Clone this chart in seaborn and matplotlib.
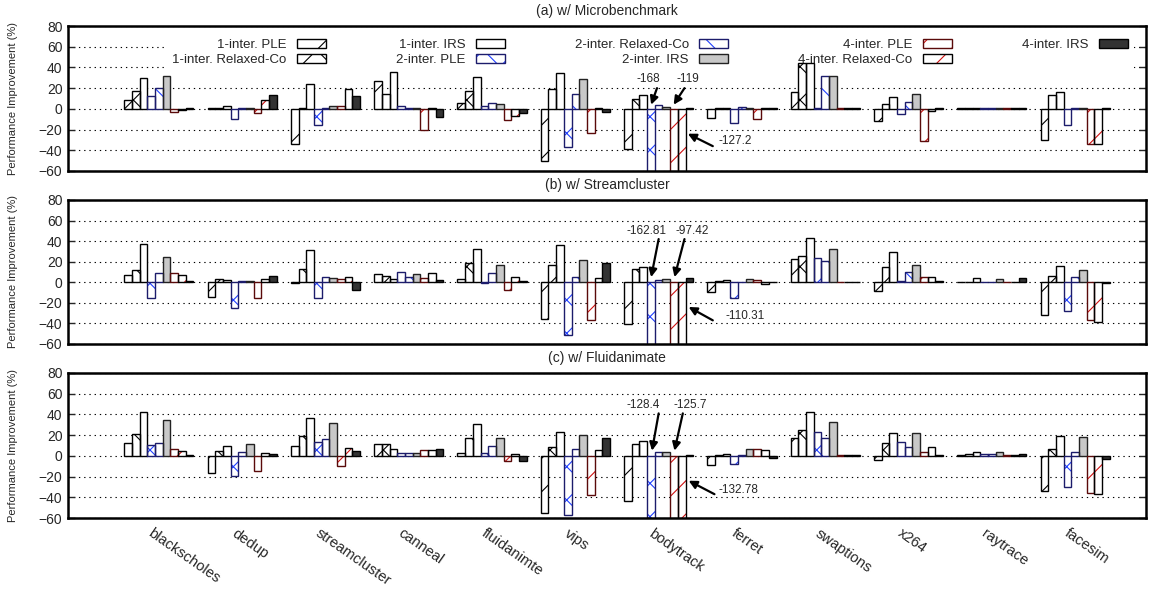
import numpy as np
import pandas as pd
import matplotlib
matplotlib.use("Agg")
import matplotlib.pyplot as plt
from matplotlib.patches import Patch
from matplotlib.transforms import ScaledTranslation
import seaborn as sns

# ---------------- data ----------------
benchmarks = ["blackscholes", "dedup", "streamcluster", "canneal", "fluidanimte", "vips",
              "bodytrack", "ferret", "swaptions", "x264", "raytrace", "facesim"]
series = ["1-inter. PLE", "1-inter. Relaxed-Co", "1-inter. IRS",
          "2-inter. PLE", "2-inter. Relaxed-Co", "2-inter. IRS",
          "4-inter. PLE", "4-inter. Relaxed-Co", "4-inter. IRS"]

# one row per series, one value per benchmark
micro_vals = [
    [9, 0.5, -34, 27, 6, -50, -39, -9, 16, -12, 0.5, -30],
    [17, 0.5, 0.5, 14, 17, 19, 10, 0.5, 44, 4.5, 0.5, 13],
    [30, 3, 24, 36, 30.5, 34.5, 13.5, 0.5, 44, 11, 0.5, 16],
    [12, -10, -15.5, 3, 3, -36.5, -168, -14, 0.5, -5, 0.5, -16],
    [20, 0.5, 1, 1, 6, 14, 3.5, 1.5, 31.5, 6.5, 0.5, 1],
    [32, 0.5, 3, 1, 4.5, 29, 2, 0.5, 31.5, 14, 0.5, 1],
    [-3, -4, 3, -20, -11, -23.5, -119, -10, 0.5, -31, 0.5, -33.5],
    [-1, 9, 19, 0.5, -7, 0.5, -127.2, 0.5, 0.5, -2.5, 0.5, -33.5],
    [1, 13, 12.5, -8, -4, -3, 0.5, 0.5, 1, 1, 0.5, 1],
]
stream_vals = [
    [7.4, -14.5, -1, 8.4, 3.5, -36, -41, -9, 23, -8, 0.5, -32],
    [11.6, 3.5, 12.6, 6.5, 18.4, 16.8, 12.6, 1.3, 25.8, 14.5, 0.5, 6.5],
    [37, 2.6, 31, 3.2, 32, 36, 15, 2, 42.6, 29.7, 3.9, 16],
    [-15.5, -25, -15.5, 9.7, -0.5, -51, -162.81, -15, 24, 1, 0.5, -28],
    [9.4, 1, 4.8, 4.8, 9.4, 5.5, 2.2, 0.5, 20.6, 9.7, 0.5, 5],
    [24.8, 1, 4.5, 8.4, 16.5, 22, 3, 3, 32, 16.5, 2.9, 11.6],
    [9.4, -15, 3.2, 3.9, -7.7, -36.5, -97.42, 2, 0.5, 5.5, 0.5, -36.5],
    [7, 3.5, 5, 8.7, 5.5, 4, -110.31, -2, 0.5, 5.5, 0.5, -39],
    [1, 5.8, -7.7, 1.9, 1, 19, 4, 0.5, 0.5, 1, 4, -0.5],
]
fluid_vals = [
    [12.6, -16.5, 10, 11, 3, -55, -44, -9, 17, -4, 1, -34],
    [21, 4.8, 19, 11, 16.8, 8.7, 11.3, 1, 25, 12, 2.2, 6.5],
    [42.6, 9.7, 37, 7, 31, 23, 14.5, 2, 42, 22, 4, 18.7],
    [10.3, -19, 13.5, 3.2, 3.2, -57, -128.4, -7.7, 23, 13, 2, -30],
    [12.6, 3.9, 15.8, 2.6, 10, 7, 3.5, 0.5, 17.7, 9, 1.5, 3.5],
    [35, 11, 32, 3.2, 16.8, 20, 3.5, 6.5, 33, 22, 3.5, 18],
    [6.8, -15, -9.7, 6, -4.8, -37.7, -125.7, 6.5, 0.5, 4, 1.3, -35.5],
    [5, 3.2, 8, 6, 2.2, 5.5, -132.78, 5.5, 0.5, 9, 1, -36.8],
    [1, 1.5, 5, 7, -4.5, 16.8, 0.5, -2, 0.5, 1, 2, -3],
]

# clipped bars: (label, text x, text y, ha, arrow tail, arrow tip)
micro_notes = [("-168", 5.88, 29, "center", (5.98, 20), (5.91, 4)),
               ("-119", 6.35, 29, "center", (6.31, 20), (6.18, 4)),
               ("-127.2", 6.72, -31, "left", (6.65, -36), (6.35, -24))]
stream_notes = [("-162.81", 5.85, 50, "center", (6.0, 42), (5.91, 5)),
                ("-97.42", 6.40, 50, "center", (6.31, 42), (6.19, 5)),
                ("-110.31", 6.8, -33, "left", (6.65, -37), (6.36, -24))]
fluid_notes = [("-128.4", 5.82, 49.5, "center", (6.0, 41), (5.92, 5)),
               ("-125.7", 6.38, 49.5, "center", (6.29, 41), (6.19, 5)),
               ("-132.78", 6.72, -33, "left", (6.67, -37), (6.36, -24))]

# ---------------- style ----------------
face_colors = ["white", "white", "white", "white", "white", "#c8c8c8", "white", "white", "#333333"]
edge_colors = ["black", "black", "black", "#1c1c6b", "#1c1c6b", "#222222", "#5a0a0a", "black", "black"]
hatch_colors = ["black", "black", "black", "#2040ff", "#2040ff", "black", "#d01010", "#d01010", "black"]
hatches = ["/", "x", "", "x", "\\", "", "/", "/", ""]

sns.set_theme(style="white")
plt.rcParams["font.family"] = ["Liberation Sans", "DejaVu Sans"]
plt.rcParams["hatch.linewidth"] = 0.8

fig = plt.figure(figsize=(11.56, 5.92), dpi=100)
left, width = 68 / 1156, (1146 - 68) / 1156
ax_a = fig.add_axes([left, 1 - 171 / 592, width, 145 / 592])
ax_b = fig.add_axes([left, 1 - 344 / 592, width, 144 / 592])
ax_c = fig.add_axes([left, 1 - 518 / 592, width, 145 / 592])


def draw_panel(ax, vals, title, notes):
    df = pd.DataFrame({
        "bench": np.tile(benchmarks, len(series)),
        "series": np.repeat(series, len(benchmarks)),
        "value": np.concatenate(vals),
    })
    sns.barplot(data=df, x="bench", y="value", hue="series", order=benchmarks,
                hue_order=series, palette=face_colors, width=0.83, saturation=1,
                errorbar=None, legend=False, ax=ax)
    for i, cont in enumerate(ax.containers):
        for p in cont:
            p.set_hatch(hatches[i])
            p.set_edgecolor(hatch_colors[i])
            p.set_linewidth(0)
    # outlines on top
    sns.barplot(data=df, x="bench", y="value", hue="series", order=benchmarks,
                hue_order=series, palette=edge_colors, width=0.83, saturation=1,
                fill=False, linewidth=1.0, errorbar=None, legend=False, ax=ax)
    for p in ax.patches:
        p.set_zorder(3)

    ax.set_xlim(-1.09, 11.85)
    ax.set_ylim(-60, 80)
    ax.set_yticks(range(-60, 81, 20))
    ax.set_axisbelow(True)
    ax.yaxis.grid(True, linestyle=(0, (1.2, 3.5)), color="black", linewidth=0.8)
    ax.xaxis.grid(False)
    for s in ax.spines.values():
        s.set_visible(True)
        s.set_linewidth(1.8)
        s.set_color("black")
        s.set_zorder(4)
    ax.tick_params(axis="y", direction="in", length=5, width=1, left=True, right=True,
                   labelsize=10, pad=4)
    ax.tick_params(axis="x", length=0)
    ax.set_xlabel("")
    ax.set_ylabel("Performance Improvement (%)", fontsize=8)
    ax.yaxis.set_label_coords(-0.046, 0.5)
    ax.set_title(title, fontsize=10, pad=8)

    for label, tx, ty, ha, tail, tip in notes:
        ax.text(tx, ty, label, ha=ha, va="center", fontsize=8.5)
        ax.annotate("", xy=tip, xytext=tail,
                    arrowprops=dict(arrowstyle="-|>", color="black", lw=1.6,
                                    mutation_scale=12, shrinkA=0, shrinkB=0))


draw_panel(ax_a, micro_vals, "(a) w/ Microbenchmark", micro_notes)
draw_panel(ax_b, stream_vals, "(b) w/ Streamcluster", stream_notes)
draw_panel(ax_c, fluid_vals, "(c) w/ Fluidanimate", fluid_notes)

for ax in (ax_a, ax_b):
    ax.tick_params(axis="x", labelbottom=False)

ax_c.set_xticks(range(len(benchmarks)))
ax_c.set_xticklabels(benchmarks, rotation=-35, ha="left", va="top",
                     rotation_mode="anchor", fontsize=10.5)
ax_c.tick_params(axis="x", pad=6)
for lab in ax_c.get_xticklabels():
    lab.set_transform(lab.get_transform() + ScaledTranslation(-5 / 100, 0, fig.dpi_scale_trans))

# legend in panel (a), drawn under the bars so tall bars show through
handles = [(Patch(facecolor=face_colors[i], edgecolor=hatch_colors[i], hatch=hatches[i], lw=0),
            Patch(facecolor="none", edgecolor=edge_colors[i], lw=1.0))
           for i in range(len(series))]
leg = ax_a.legend(handles, series, ncol=5, markerfirst=False, loc="upper right",
                  bbox_to_anchor=(0.995, 1.0), frameon=True, facecolor="white",
                  edgecolor="none", framealpha=1, fancybox=False, fontsize=9.5,
                  handlelength=2.2, handleheight=0.7, columnspacing=5.3,
                  labelspacing=0.25, borderpad=0.45, handletextpad=0.8)
leg.set_zorder(2)

fig.savefig("out.png", dpi=100)
